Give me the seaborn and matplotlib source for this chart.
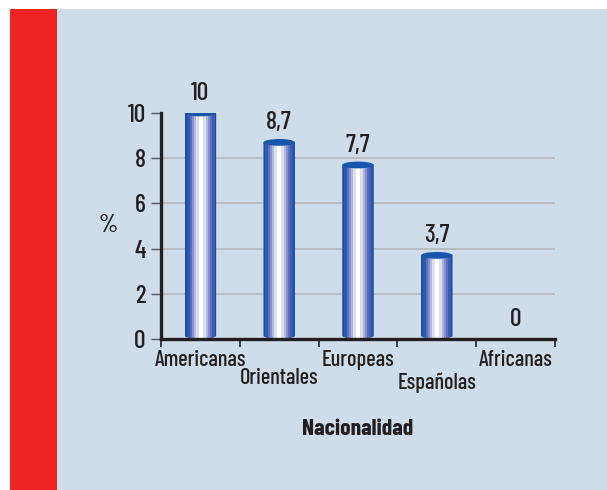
import numpy as np
import pandas as pd
import matplotlib
matplotlib.use("Agg")
import matplotlib.pyplot as plt
import seaborn as sns
from matplotlib.patches import Rectangle, Ellipse, PathPatch
from matplotlib.path import Path
from matplotlib.colors import ListedColormap

nacionalidad = ["Americanas", "Orientales", "Europeas", "Españolas", "Africanas"]
porcentaje = [10, 8.7, 7.7, 3.7, 0]
etiquetas = ["10", "8,7", "7,7", "3,7", "0"]
y_ticks = [0, 2, 4, 6, 8, 10]

sns.set_style("white")
plt.rcParams["font.family"] = ["Barlow Condensed", "DejaVu Sans"]

BG = "#cfdce9"
RED = "#ee2326"
DARK = "#231f20"
stripes = ListedColormap(["#1a4fa6", "#2f59b0", "#5a6fbd", "#8791cb", "#b3b8de",
                          "#dcdff0", "#ffffff", "#ffffff", "#dcdff0", "#b0b6dc",
                          "#8590ca", "#5d6fbd", "#3a5cb4", "#1a4fa6"])

fig = plt.figure(figsize=(6.07, 4.9), dpi=100)
fig.patch.set_facecolor("white")
fig.patches.append(Rectangle((10 / 607, 0), 1, 481 / 490, transform=fig.transFigure,
                             facecolor=BG, edgecolor="none", zorder=-2))
fig.patches.append(Rectangle((10 / 607, 0), 47 / 607, 481 / 490, transform=fig.transFigure,
                             facecolor=RED, edgecolor="none", zorder=-1))

ax = fig.add_axes([161 / 607, 1 - 339 / 490, 394 / 607, 226 / 490])
ax.set_facecolor("none")

df = pd.DataFrame({"Nacionalidad": nacionalidad, "pct": porcentaje})
sns.barplot(data=df, x="Nacionalidad", y="pct", color="#1a4fa6", width=0.4,
            saturation=1, ax=ax, zorder=3)

ax.set_xlim(-0.5, len(nacionalidad) - 0.5)
ax.set_ylim(0, 10)
ax.set_yticks(y_ticks)
ax.set_yticklabels([str(t) for t in y_ticks], fontsize=18.5, color=DARK, fontweight="medium")

# cylinders
e = 0.3
for p, lab in zip(ax.patches, etiquetas):
    x0, w, h = p.get_x(), p.get_width(), p.get_height()
    cx = x0 + w / 2
    if h > 0:
        p.set_visible(False)
        t = np.linspace(np.pi, 2 * np.pi, 30)
        bottom = np.column_stack([cx + w / 2 * np.cos(t), e / 2 + e / 2 * np.sin(t)])
        verts = np.vstack([bottom, [[x0 + w, h], [x0, h], bottom[0]]])
        clip = PathPatch(Path(verts), transform=ax.transData, facecolor="none", edgecolor="none")
        ax.add_patch(clip)
        img = ax.imshow(np.arange(stripes.N).reshape(1, -1), cmap=stripes, aspect="auto",
                        extent=(x0, x0 + w, 0, h), zorder=3, interpolation="nearest")
        img.set_clip_path(clip)
        ax.add_patch(Ellipse((cx, h), w, e, facecolor="#1756ad", edgecolor="none", zorder=4))
    ax.annotate(lab, (cx, h), xytext=(0, 6), textcoords="offset points",
                ha="center", va="bottom", fontsize=18.5, color=DARK, fontweight="medium")
ax.set_xlim(-0.5, len(nacionalidad) - 0.5)
ax.set_ylim(0, 10)

ax.yaxis.grid(True, color="#b8bbbe", lw=1.3, zorder=0)
gl = ax.get_ygridlines()
gl[0].set_visible(False)
gl[-1].set_visible(False)

for s in ["top", "right"]:
    ax.spines[s].set_visible(False)
for s in ["left", "bottom"]:
    ax.spines[s].set_color(DARK)
    ax.spines[s].set_linewidth(2.4)
    ax.spines[s].set_zorder(5)

ax.tick_params(axis="y", length=7, width=1, color="#555555", pad=4, left=True)
ax.set_xticks(np.arange(-0.5, len(nacionalidad)), minor=True)
ax.tick_params(axis="x", which="minor", length=6, width=1.2, color=DARK, bottom=True)
ax.tick_params(axis="x", which="major", length=0, pad=8, labelsize=16, labelcolor=DARK)
for tk in ax.xaxis.get_major_ticks():
    tk.label1.set_fontweight("medium")
xt = ax.xaxis.get_major_ticks()
xt[1].set_pad(21)
xt[3].set_pad(24)

ax.set_xlabel("Nacionalidad", fontsize=17, fontweight="bold", color=DARK, labelpad=19)
ax.set_ylabel("%", fontsize=18, rotation=0, color=DARK, labelpad=14, va="center",
              fontweight="medium")

fig.savefig("out.png", dpi=100)
